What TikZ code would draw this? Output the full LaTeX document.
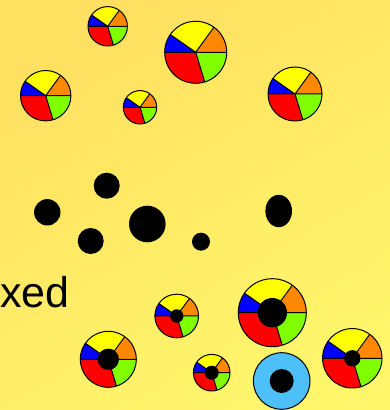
\documentclass[tikz,border=0pt]{standalone}
\usepackage{fontspec}
\setmainfont{Liberation Sans}
\definecolor{bgA}{RGB}{255,224,96}
\definecolor{bgB}{RGB}{255,246,108}
\definecolor{pOr}{RGB}{255,136,0}
\definecolor{pYe}{RGB}{255,255,0}
\definecolor{pBl}{RGB}{0,0,255}
\definecolor{pRe}{RGB}{255,0,0}
\definecolor{pGr}{RGB}{128,255,0}
\definecolor{sky}{RGB}{77,192,250}
\newcommand\mypie[4]{%
 \begin{scope}[shift={(#1,#2)}]
  \fill[pOr] (0,0) -- (0:#3) arc[start angle=0,end angle=54,radius=#3] -- cycle;
  \fill[pYe] (0,0) -- (54:#3) arc[start angle=54,end angle=145,radius=#3] -- cycle;
  \fill[pBl] (0,0) -- (145:#3) arc[start angle=145,end angle=180,radius=#3] -- cycle;
  \fill[pRe] (0,0) -- (180:#3) arc[start angle=180,end angle=287,radius=#3] -- cycle;
  \fill[pGr] (0,0) -- (287:#3) arc[start angle=287,end angle=360,radius=#3] -- cycle;
  \draw[pieline] (0,0) -- (0:#3) (0,0) -- (54:#3) (0,0) -- (145:#3) (0,0) -- (180:#3) (0,0) -- (287:#3);
  \draw[pieline] (0,0) circle[radius=#3];
  \fill[black] (0,0) circle[radius=#4];
 \end{scope}}
\tikzset{pieline/.style={black, line width=1pt, line join=round}}
\begin{document}
\begin{tikzpicture}[x=1pt,y=1pt]
\useasboundingbox (0,0) rectangle (390,410);
\shade[top color=bgA, bottom color=bgB, shading angle=30] (0,0) rectangle (390,410);
% top pies
\mypie{107.7}{383.7}{19.7}{0}
\mypie{195.7}{357.7}{31}{0}
\mypie{45.7}{314.3}{25.2}{0}
\mypie{140}{302.7}{16.7}{0}
\mypie{295}{316}{27}{0}
% black dots
\fill[black] (47.3,197.7) circle[radius=13.2];
\fill[black] (106.7,224.3) circle[radius=13];
\fill[black] (90.7,169) circle[radius=13];
\fill[black] (147.3,186) circle[radius=18.3];
\fill[black] (201,168.3) circle[radius=9];
\fill[black] (278.7,199) ellipse[x radius=13.3, y radius=16.2];
% text
\node[anchor=base west, inner sep=0pt, font=\fontsize{43}{43}\selectfont] (lbl) at (0,102.3) {xed};
% bottom pies
\mypie{176.7}{94}{21.8}{6.7}
\mypie{272.3}{97.3}{34}{14.7}
\mypie{108.3}{50.7}{28}{10.7}
\mypie{211.7}{37.3}{18.3}{7}
\mypie{352.3}{51.7}{29.7}{8.2}
% blue ring
\filldraw[fill=sky, draw=black, line width=1pt] (281.7,29) circle[radius=28.3];
\fill[black] (281.7,29) circle[radius=12];
\end{tikzpicture}
\end{document}
